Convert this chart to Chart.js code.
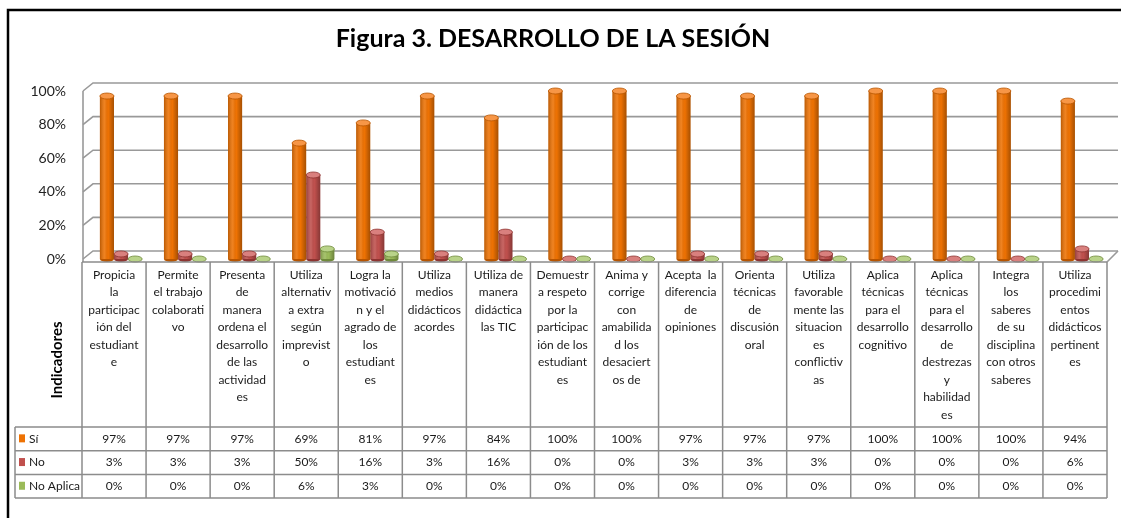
<!DOCTYPE html>
<html lang="es">
<head>
<meta charset="utf-8">
<title>Figura 3. Desarrollo de la sesión</title>
<script src="https://cdn.jsdelivr.net/npm/chart.js@4.4.1/dist/chart.umd.min.js"></script>
<style>
  html, body { margin: 0; padding: 0; background: #fff; }
  canvas { display: block; }
</style>
</head>
<body>
<canvas id="grafico" width="1121" height="518"></canvas>
<script>
// ===== DATOS =====
const indicadores = [
  ["Propicia", "la", "participac", "ión del", "estudiant", "e"],
  ["Permite", "el trabajo", "colaborati", "vo"],
  ["Presenta", "de", "manera", "ordena el", "desarrollo", "de las", "actividad", "es"],
  ["Utiliza", "alternativ", "a extra", "según", "imprevist", "o"],
  ["Logra la", "motivació", "n y el", "agrado de", "los", "estudiant", "es"],
  ["Utiliza", "medios", "didácticos", "acordes"],
  ["Utiliza de", "manera", "didáctica", "las TIC"],
  ["Demuestr", "a respeto", "por la", "participac", "ión de los", "estudiant", "es"],
  ["Anima y", "corrige", "con", "amabilida", "d los", "desaciert", "os de"],
  ["Acepta  la", "diferencia", "de", "opiniones"],
  ["Orienta", "técnicas", "de", "discusión", "oral"],
  ["Utiliza", "favorable", "mente las", "situacion", "es", "conflictiv", "as"],
  ["Aplica", "técnicas", "para el", "desarrollo", "cognitivo"],
  ["Aplica", "técnicas", "para el", "desarrollo", "de", "destrezas", "y", "habilidad", "es"],
  ["Integra", "los", "saberes", "de su", "disciplina", "con otros", "saberes"],
  ["Utiliza", "procedimi", "entos", "didácticos", "pertinent", "es"]
];
const serieSi = [97, 97, 97, 69, 81, 97, 84, 100, 100, 97, 97, 97, 100, 100, 100, 94];
const serieNo = [3, 3, 3, 50, 16, 3, 16, 0, 0, 3, 3, 3, 0, 0, 0, 6];
const serieNoAplica = [0, 0, 0, 6, 3, 0, 0, 0, 0, 0, 0, 0, 0, 0, 0, 0];
const nombresSeries = ["Sí", "No", "No Aplica"];
const ticksY = [0, 20, 40, 60, 80, 100];
const tituloGrafico = "Figura 3. DESARROLLO DE LA SESIÓN";
const tituloEje = "Indicadores";

// ===== ESTILO =====
const coloresSeries = ["#EE7203", "#C0504D", "#9BBB59"];
const coloresTapa = ["#F79646", "#D9807E", "#B9D389"];
const coloresBorde = ["#B85500", "#8E3431", "#6F8A3A"];
const FUENTE = "Lato, 'Open Sans', sans-serif";
const PROF_X = 10;    // profundidad 3D
const PROF_Y = 8;
const DESPLAZ = 7;    // las barras van corridas respecto a la tabla
const ALTO_CAB = 165; // alto de la zona de textos de indicadores
const ALTO_FILA = 23.7;

// marco negro y fondo
const marco = {
  id: "marco",
  beforeDraw(chart) {
    const ctx = chart.ctx;
    ctx.save();
    ctx.fillStyle = "#fff";
    ctx.fillRect(0, 0, chart.width, chart.height);
    ctx.strokeStyle = "#000";
    ctx.lineWidth = 2.5;
    ctx.beginPath();
    ctx.moveTo(chart.width, 10);
    ctx.lineTo(8, 10);
    ctx.lineTo(8, chart.height);
    ctx.stroke();
    ctx.restore();
  }
};

// rejilla con pared de fondo (efecto 3D)
const rejilla3d = {
  id: "rejilla3d",
  beforeDatasetsDraw(chart) {
    const ctx = chart.ctx;
    const y = chart.scales.y;
    const frontX = chart.chartArea.left - 6;
    const backX = frontX + PROF_X;
    const finX = chart.chartArea.right + 4;
    ctx.save();
    ctx.strokeStyle = "#999";
    ctx.lineWidth = 1.6;
    ticksY.forEach((v) => {
      const py = y.getPixelForValue(v);
      ctx.beginPath();
      ctx.moveTo(frontX, py);
      ctx.lineTo(backX, py - PROF_Y);
      ctx.lineTo(finX, py - PROF_Y);
      ctx.stroke();
    });
    // aristas
    ctx.beginPath();
    ctx.moveTo(frontX, y.getPixelForValue(100));
    ctx.lineTo(frontX, y.getPixelForValue(0) + 3);
    ctx.stroke();
    const derTabla = chart.chartArea.right - DESPLAZ;
    ctx.beginPath();
    ctx.moveTo(derTabla, y.getPixelForValue(0) + 3);
    ctx.lineTo(finX, y.getPixelForValue(0) - PROF_Y);
    ctx.stroke();
    ctx.restore();
  }
};

// sombreado de cilindros
const cilindros = {
  id: "cilindros",
  afterDatasetsDraw(chart) {
    const ctx = chart.ctx;
    ctx.save();
    chart.data.datasets.forEach((ds, di) => {
      const meta = chart.getDatasetMeta(di);
      meta.data.forEach((el) => {
        const { x, y, base, width } = el.getProps(["x", "y", "base", "width"], true);
        const r = width / 2;
        if (base - y > 0.5) {
          const g = ctx.createLinearGradient(x - r, 0, x + r, 0);
          g.addColorStop(0, "rgba(0,0,0,0.22)");
          g.addColorStop(0.35, "rgba(255,255,255,0.12)");
          g.addColorStop(0.6, "rgba(0,0,0,0)");
          g.addColorStop(1, "rgba(0,0,0,0.3)");
          ctx.fillStyle = g;
          ctx.fillRect(x - r, y, width, base - y);
          ctx.fillStyle = coloresBorde[di];
          ctx.beginPath();
          ctx.ellipse(x, base, r, 3, 0, 0, Math.PI);
          ctx.fill();
        }
        ctx.fillStyle = coloresTapa[di];
        ctx.strokeStyle = coloresBorde[di];
        ctx.lineWidth = 0.8;
        ctx.beginPath();
        ctx.ellipse(x, y, r, 3, 0, 0, Math.PI * 2);
        ctx.fill();
        ctx.stroke();
      });
    });
    ctx.restore();
  }
};

// tabla de datos bajo el grafico
const tablaDatos = {
  id: "tablaDatos",
  afterDraw(chart) {
    const ctx = chart.ctx;
    const xs = chart.scales.x;
    const ys = chart.scales.y;
    const n = indicadores.length;
    const anchoCol = xs.width / n;
    const izq = xs.left - DESPLAZ;
    const der = xs.right - DESPLAZ;
    const izqLeyenda = 15;
    const yCab = ys.getPixelForValue(0) + 3;
    const yTabla = yCab + ALTO_CAB;
    const series = [serieSi, serieNo, serieNoAplica];
    const yFin = yTabla + ALTO_FILA * series.length;

    ctx.save();
    ctx.strokeStyle = "#8c8c8c";
    ctx.lineWidth = 1.5;
    // horizontales
    ctx.beginPath();
    ctx.moveTo(izq, yCab);
    ctx.lineTo(der, yCab);
    for (let f = 0; f <= series.length; f++) {
      ctx.moveTo(izqLeyenda, yTabla + f * ALTO_FILA);
      ctx.lineTo(der, yTabla + f * ALTO_FILA);
    }
    // verticales
    ctx.moveTo(izqLeyenda, yTabla);
    ctx.lineTo(izqLeyenda, yFin);
    for (let i = 0; i <= n; i++) {
      const cx = izq + i * anchoCol;
      ctx.moveTo(cx, yCab);
      ctx.lineTo(cx, yFin);
    }
    ctx.stroke();

    // textos de indicadores
    ctx.fillStyle = "#1a1a1a";
    ctx.textAlign = "center";
    ctx.textBaseline = "middle";
    ctx.font = "12px " + FUENTE;
    indicadores.forEach((lineas, i) => {
      const cx = xs.getPixelForValue(i) - DESPLAZ;
      lineas.forEach((t, k) => ctx.fillText(t, cx, yCab + 13 + k * 17.5));
    });

    // valores
    series.forEach((serie, f) => {
      const cy = yTabla + (f + 0.5) * ALTO_FILA;
      serie.forEach((v, i) => {
        ctx.fillText(v + "%", xs.getPixelForValue(i) - DESPLAZ, cy);
      });
      // leyenda
      ctx.fillStyle = coloresSeries[f];
      ctx.fillRect(izqLeyenda + 4, cy - 4.5, 6, 8);
      ctx.fillStyle = "#1a1a1a";
      ctx.textAlign = "left";
      ctx.fillText(nombresSeries[f], izqLeyenda + 14, cy);
      ctx.textAlign = "center";
    });

    // titulo del eje
    ctx.save();
    ctx.translate(57, yCab + 98);
    ctx.rotate(-Math.PI / 2);
    ctx.font = "bold 15px " + FUENTE;
    ctx.fillStyle = "#000";
    ctx.fillText(tituloEje, 0, 0);
    ctx.restore();

    // titulo
    ctx.font = "bold 25px " + FUENTE;
    ctx.fillStyle = "#000";
    ctx.fillText(tituloGrafico, 553, 39);
    ctx.restore();
  }
};

const ctx = document.getElementById("grafico").getContext("2d");
const grafico = new Chart(ctx, {
  type: "bar",
  data: {
    labels: indicadores,
    datasets: [serieSi, serieNo, serieNoAplica].map((serie, i) => ({
      label: nombresSeries[i],
      data: serie,
      backgroundColor: coloresSeries[i],
      borderWidth: 0,
      categoryPercentage: 0.66,
      barPercentage: 1.0,
    })),
  },
  options: {
    responsive: false,
    animation: false,
    devicePixelRatio: 1,
    layout: { padding: { left: 29, right: 7, top: 91, bottom: 259 } },
    plugins: {
      legend: { display: false },
      title: { display: false },
      tooltip: { enabled: false },
    },
    scales: {
      x: { display: false },
      y: {
        min: 0,
        max: 100,
        afterFit: (scale) => { scale.width = 60; },
        afterBuildTicks: (scale) => { scale.ticks = ticksY.map((v) => ({ value: v })); },
        grid: { display: false, drawTicks: false },
        border: { display: false },
        ticks: {
          padding: 23,
          color: "#222",
          font: { family: FUENTE, size: 14 },
          callback: (v) => v + "%",
        },
      },
    },
  },
  plugins: [marco, rejilla3d, cilindros, tablaDatos],
});
</script>
</body>
</html>
